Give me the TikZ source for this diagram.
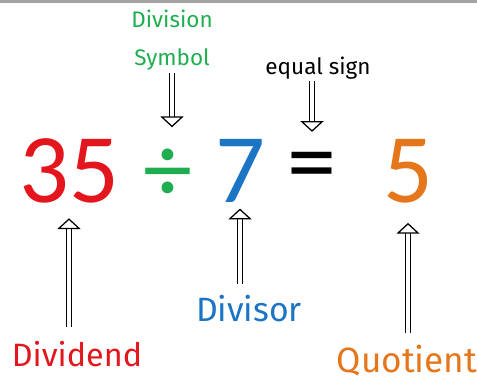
\documentclass[tikz,border=0pt]{standalone}
\usepackage{fontspec}
\usepackage{tikz}
\usetikzlibrary{arrows.meta,positioning}
\newfontfamily\numfont{Carlito}
\newfontfamily\lblfont{Fira Sans}
\definecolor{dvred}{HTML}{E3161D}
\definecolor{dvgreen}{HTML}{1FAE4F}
\definecolor{dvblue}{HTML}{1C74C4}
\definecolor{dvorange}{HTML}{E5761C}
\definecolor{dvgray}{HTML}{A3A3A3}

\begin{document}
\begin{tikzpicture}[x=0.25mm, y=-0.25mm,
  num/.style={inner sep=0pt, outer sep=0pt,
              font=\numfont\fontsize{70}{70}\selectfont},
  lbl/.style={inner sep=0pt, outer sep=0pt, align=center, anchor=north},
  hollow/.style={draw=black, line width=0.9pt, double=white,
                 double distance=3pt,
                 -{Triangle[open, length=2.7mm, width=5.8mm, line width=0.9pt]}},
]
  \useasboundingbox (0,0) rectangle (477,390);
  \fill[dvgray] (0,0) rectangle (477,3);

  % The sum itself.
  \node[num, text=dvred] (dividendnum) at (69,171) {35};
  \node[num, text=dvgreen] (divsign) at (168,176) {÷};
  \node[num, text=dvblue] (divisornum) at (240,171) {7};
  \node[num, text=black] (eqsign) at (312,173) {=};
  \node[num, text=dvorange] (quotientnum) at (408,171) {5};

  % Names above.
  \node[lbl, text=dvgreen, font=\lblfont\fontsize{16}{27}\selectfont]
    (symlbl) at (172,10) {Division\\Symbol};
  \node[lbl, text=black, font=\lblfont\fontsize{16}{16}\selectfont]
    (eqlbl) at (318,57) {equal sign};

  % Names below.
  \node[lbl, text=dvblue, font=\lblfont\fontsize{24}{24}\selectfont]
    (divisorlbl) at (249,295) {Divisor};
  \node[lbl, text=dvred, font=\lblfont\fontsize{23}{23}\selectfont]
    (dividendlbl) at (77,341) {Dividend};
  \node[lbl, text=dvorange, font=\lblfont\fontsize{25}{25}\selectfont]
    (quotientlbl) at (407,345) {Quotient};

  % Hollow arrows.
  \draw[hollow, shorten <=0.75mm, shorten >=5.5mm]
    (symlbl.south) -- (symlbl.south |- divsign.north);
  \draw[hollow, shorten <=0.5mm, shorten >=5mm]
    (eqlbl.south -| eqsign.north) -- (eqsign.north);
  \draw[hollow, shorten <=3.5mm, shorten >=3.75mm]
    (dividendlbl.north -| dividendnum.south) -- (dividendnum.south);
  \draw[hollow, shorten <=2.75mm, shorten >=1.5mm]
    (divisorlbl.north -| divisornum.south) -- (divisornum.south);
  \draw[hollow, shorten <=3mm, shorten >=5mm]
    (quotientlbl.north -| quotientnum.south) -- (quotientnum.south);
\end{tikzpicture}
\end{document}
